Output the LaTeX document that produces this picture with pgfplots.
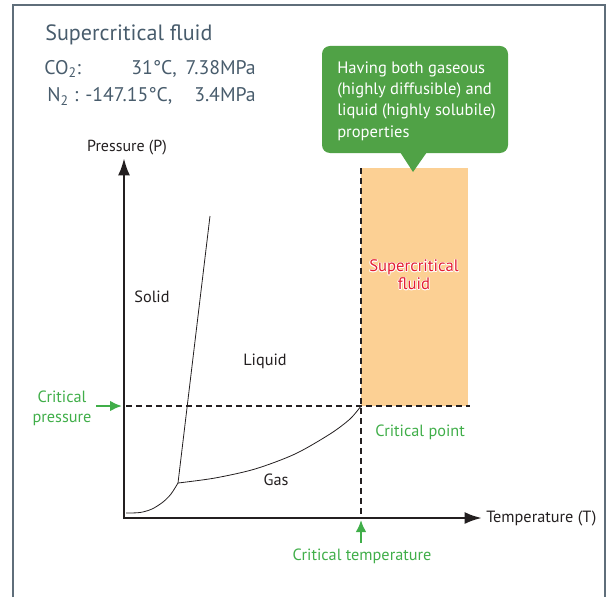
\documentclass[border=0pt]{standalone}
\usepackage{pgfplots}
\pgfplotsset{compat=1.18}
\usepackage{fontspec}
\setmainfont{PT Sans}
\usetikzlibrary{arrows.meta}
\definecolor{frame}{RGB}{95,110,122}
\definecolor{titlec}{RGB}{72,92,108}
\definecolor{tgreen}{RGB}{64,174,73}
\definecolor{cgreen}{RGB}{80,162,70}
\definecolor{sorange}{RGB}{252,208,148}
\definecolor{sred}{RGB}{228,30,50}
\definecolor{ink}{RGB}{35,31,32}
\newcommand{\scf}{\fontsize{12.5}{13.5}\selectfont}
\newcommand{\lbl}{\fontsize{12.2}{14}\selectfont}
\newcommand{\hdr}{\fontsize{14.8}{16}\selectfont}
\newcommand{\callfont}{\fontsize{12.4}{14}\selectfont}
\begin{document}
\begin{tikzpicture}
\begin{axis}[hide axis, scale only axis, width=459.75pt, height=447.75pt,
  xmin=0, xmax=613, ymin=0, ymax=597, y dir=reverse, clip=false]
% bounding area
\addplot[draw=none, forget plot] coordinates {(0,0) (613,597)};
% frame
\addplot[frame, line width=1.1pt] coordinates {(13,597) (13,5) (605,5) (605,597)};
% supercritical region
\addplot[fill=sorange, draw=none] coordinates {(361,168) (468,168) (468,406) (361,406)} -- cycle;
% callout
\addplot[fill=cgreen, draw=none, rounded corners=6pt] coordinates {(322,46) (508,46) (508,153) (322,153)} -- cycle;
\addplot[fill=cgreen, draw=none] coordinates {(400,152) (427,152) (413,172)} -- cycle;
% dashed critical lines
\addplot[ink, line width=1.6pt, dash pattern=on 4.5pt off 3pt] coordinates {(126,406) (470,406)};
\addplot[ink, line width=1.6pt, dash pattern=on 4.5pt off 3pt] coordinates {(361,168) (361,516)};
% phase boundaries
\addplot[ink, line width=0.6pt] coordinates {(178,483) (210,216)};
\addplot[ink, line width=0.6pt, smooth] coordinates {(126,513) (140,512.5) (152,509) (163,502) (171,494) (178,483)};
\addplot[ink, line width=0.6pt, smooth] coordinates {(178,483) (215,478) (255,469) (295,454) (330,434) (350,419) (361,406)};
% axes
\addplot[ink, line width=2pt, -{Latex[length=13pt,width=9pt]}] coordinates {(124,519) (124,158)};
\addplot[ink, line width=2pt, -{Latex[length=13pt,width=9pt]}] coordinates {(123,518) (482,518)};
% green arrows
\addplot[tgreen, line width=1.6pt, -{Latex[length=9pt,width=8pt]}] coordinates {(96,406) (122,406)};
\addplot[tgreen, line width=1.6pt, -{Latex[length=9pt,width=8pt]}] coordinates {(361,543) (361,520)};
% texts
\node[anchor=base west, inner sep=0pt, text=titlec, font=\fontsize{16.6}{18}\selectfont] at (axis cs:45,41) {Supercritical fluid};
\node[anchor=base west, inner sep=0pt, text=titlec, font=\hdr] at (axis cs:44,74.5) {CO\textsubscript{2}:};
\node[anchor=base west, inner sep=0pt, text=titlec, font=\hdr] at (axis cs:131,74.5) {31°C,};
\node[anchor=base east, inner sep=0pt, text=titlec, font=\hdr] at (axis cs:256,74.5) {7.38MPa};
\node[anchor=base west, inner sep=0pt, text=titlec, font=\hdr] at (axis cs:47,102) {N\textsubscript{2} : -147.15°C,};
\node[anchor=base east, inner sep=0pt, text=titlec, font=\hdr] at (axis cs:256,102) {3.4MPa};
\node[anchor=base west, text=white, inner sep=0pt, font=\callfont] at (axis cs:337,74) {Having both gaseous};
\node[anchor=base west, text=white, inner sep=0pt, font=\callfont] at (axis cs:337,95) {(highly diffusible) and};
\node[anchor=base west, text=white, inner sep=0pt, font=\callfont] at (axis cs:337,116) {liquid (highly solubile)};
\node[anchor=base west, text=white, inner sep=0pt, font=\callfont] at (axis cs:337,137) {properties};
\node[font=\fontsize{12}{12}\selectfont, text=ink] at (axis cs:127,148) {Pressure (P)};
\node[anchor=west, inner sep=0pt, font=\lbl, text=ink] at (axis cs:486,518) {Temperature (T)};
\node[font=\lbl, text=ink] at (axis cs:152,297) {Solid};
\node[font=\lbl, text=ink] at (axis cs:265,361) {Liquid};
\node[font=\lbl, text=ink] at (axis cs:276,480) {Gas};
\node[align=center, text=tgreen, font=\fontsize{12.2}{15}\selectfont] at (axis cs:62,408) {Critical\\pressure};
\node[anchor=west, inner sep=0pt, text=tgreen, font=\lbl] at (axis cs:375,432) {Critical point};
\node[text=tgreen, font=\lbl] at (axis cs:362,556) {Critical temperature};
\node[align=center, text=white, font=\scf, xshift=0.6pt] at (axis cs:414,275) {Supercritical\\fluid};
\node[align=center, text=white, font=\scf, xshift=-0.6pt] at (axis cs:414,275) {Supercritical\\fluid};
\node[align=center, text=white, font=\scf, yshift=0.6pt] at (axis cs:414,275) {Supercritical\\fluid};
\node[align=center, text=white, font=\scf, yshift=-0.6pt] at (axis cs:414,275) {Supercritical\\fluid};
\node[align=center, text=white, font=\scf, xshift=0.45pt, yshift=0.45pt] at (axis cs:414,275) {Supercritical\\fluid};
\node[align=center, text=white, font=\scf, xshift=-0.45pt, yshift=0.45pt] at (axis cs:414,275) {Supercritical\\fluid};
\node[align=center, text=white, font=\scf, xshift=0.45pt, yshift=-0.45pt] at (axis cs:414,275) {Supercritical\\fluid};
\node[align=center, text=white, font=\scf, xshift=-0.45pt, yshift=-0.45pt] at (axis cs:414,275) {Supercritical\\fluid};
\node[align=center, text=sred, font=\scf] at (axis cs:414,275) {Supercritical\\fluid};
\end{axis}
\end{tikzpicture}
\end{document}
